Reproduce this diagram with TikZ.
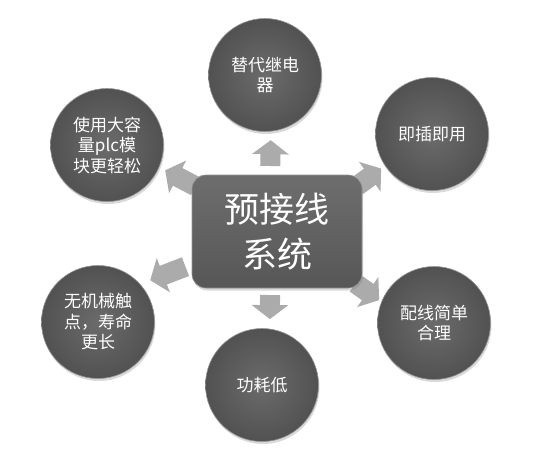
\documentclass[tikz,border=0pt]{standalone}
\usepackage{fontspec}
\setmainfont{Noto Sans CJK SC}
\usetikzlibrary{arrows.meta,shadows,backgrounds}

\begin{document}
\begin{tikzpicture}[
    x=1pt, y=-1pt,
    hub_node/.style={rectangle, rounded corners=14pt, minimum width=170pt, minimum height=113pt, inner sep=0pt, outer sep=0pt, top color=black!57, bottom color=black!66, draw=black!42, line width=0.6pt, text=white, align=center, font=\fontsize{35}{45}\selectfont, drop shadow={opacity=0.3, shadow xshift=1pt, shadow yshift=-2.5pt}},
    ball_node/.style={circle, minimum size=113pt, inner sep=0pt, outer sep=0pt, inner color=black!58, outer color=black!68, draw=black!42, line width=0.6pt, text=white, align=center, font=\fontsize{17}{20.5}\selectfont, drop shadow={opacity=0.3, shadow xshift=1pt, shadow yshift=-2.5pt}},
    block_arrow/.style={line width=20pt, draw=black!33, -{Triangle[width=36pt,length=14pt]}}
]
    \useasboundingbox (0,0) rectangle (541,456);
        \node[hub_node] (sys) at (277,231.5) {预接线\\系统};
        \node[ball_node] (relay) at (265,75) {替代继电\\器};
        \node[ball_node] (plug) at (432,134) {即插即用};
        \node[ball_node] (wiring) at (434,323) {配线简单\\合理};
        \node[ball_node] (power) at (262,385) {功耗低};
        \node[ball_node] (contact) at (98,322) {无机械触\\点，寿命\\更长};
        \node[ball_node] (module) at (107,145) {使用大容\\量plc模\\块更轻松};
    \begin{scope}[on background layer]
    \draw [block_arrow, shorten <=9pt, shorten >=9pt] (sys.97) -- (relay.-84);
    \draw [block_arrow, shorten <=-6pt, shorten >=5pt] (sys.30) -- (plug.214);
    \draw [block_arrow, shorten <=-8pt, shorten >=3pt] (sys.south east) -- (wiring.158);
    \draw [block_arrow, shorten <=7pt, shorten >=10pt] (sys.-97) -- (power.82);
    \draw [block_arrow, shorten <=7pt, shorten >=11pt] (sys.201) -- (contact.42);
    \draw [block_arrow, shorten <=-4pt, shorten >=7pt] (sys.151) -- (module.-23);
    \end{scope}

    \end{tikzpicture}
\end{document}
